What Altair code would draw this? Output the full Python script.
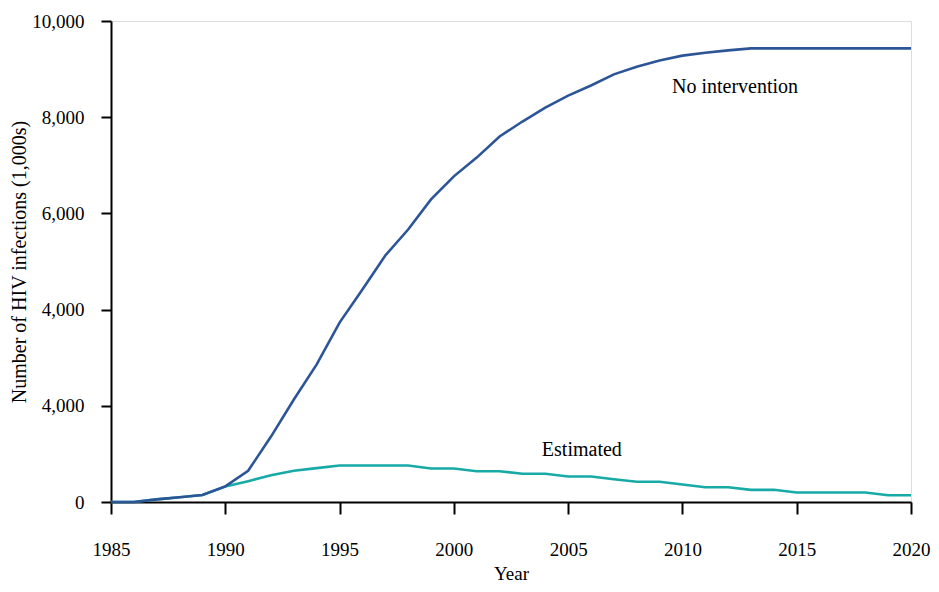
import altair as alt
import pandas as pd

years = list(range(1985, 2021))
no_intervention = [0, 0, 55, 100, 145, 325, 650, 1360, 2130, 2860, 3730, 4420, 5125,
                   5665, 6290, 6770, 7160, 7600, 7910, 8200, 8450, 8660, 8890, 9050,
                   9180, 9280, 9340, 9390, 9430, 9430, 9430, 9430, 9430, 9430, 9430, 9430]
estimated = [0, 0, 55, 100, 145, 320, 432, 555, 650, 705, 759, 759, 759, 759, 696, 696,
             640, 640, 586, 586, 530, 530, 474, 420, 420, 364, 308, 308, 253, 253, 198,
             198, 198, 198, 141, 141]

y_tick_values = [0, 2000, 4000, 6000, 8000, 10000]
y_tick_labels = ["0", "4,000", "4,000", "6,000", "8,000", "10,000"]
x_tick_values = [1985, 1990, 1995, 2000, 2005, 2010, 2015, 2020]

label_names = ["No intervention", "Estimated"]
label_x = [2012.3, 2005.6]
label_y = [8620, 1090]

series_names = ["Estimated", "No intervention"]
series_colors = ["#17aaa7", "#2c5597"]

rows = []
for name, vals in [("Estimated", estimated), ("No intervention", no_intervention)]:
    for yr, v in zip(years, vals):
        rows.append({"Year": yr, "Value": v, "Series": name,
                     "order": series_names.index(name)})
df = pd.DataFrame(rows)
labels_df = pd.DataFrame({"text": label_names, "Year": label_x, "Value": label_y})

expr = " : ".join(
    f"datum.value == {v} ? '{l}'" for v, l in zip(y_tick_values, y_tick_labels)
) + " : ''"

FONT = "Liberation Serif"

x_scale = alt.Scale(domain=[1985, 2020], nice=False, zero=False)
y_scale = alt.Scale(domain=[0, 10000], nice=False)

lines = alt.Chart(df).mark_line(strokeWidth=2.6).encode(
    x=alt.X("Year:Q", scale=x_scale, axis=alt.Axis(
        values=x_tick_values, format="d", title="Year", grid=False,
        domainColor="black", domainWidth=2, tickColor="black", tickWidth=2,
        tickSize=12, labelPadding=26, labelFontSize=19, labelFont=FONT,
        labelColor="black", titleFont=FONT, titleFontSize=19, titleFontWeight="normal",
        titleColor="black", titlePadding=5, labelFlush=False)),
    y=alt.Y("Value:Q", scale=y_scale, axis=alt.Axis(
        values=y_tick_values, labelExpr=expr, title="Number of HIV infections (1,000s)",
        grid=False, domainColor="black", domainWidth=2, tickColor="black", tickWidth=2,
        tickSize=10, labelPadding=17, labelFontSize=19, labelFont=FONT,
        labelColor="black", titleFont=FONT, titleFontSize=20, titleFontWeight="normal",
        titleColor="black", titlePadding=2)),
    color=alt.Color("Series:N", scale=alt.Scale(domain=series_names, range=series_colors),
                    legend=None),
    order=alt.Order("order:Q"),
    detail="Series:N",
)

texts = alt.Chart(labels_df).mark_text(font=FONT, fontSize=20, color="black",
                                       baseline="middle", align="center").encode(
    x=alt.X("Year:Q", scale=x_scale),
    y=alt.Y("Value:Q", scale=y_scale),
    text="text:N",
)

chart = alt.layer(lines, texts).properties(
    width=800, height=481,
    autosize=alt.AutoSizeParams(type="none"),
    padding={"left": 103, "top": 13, "right": 20, "bottom": 84},
).configure_view(stroke=None).configure(background="white")

chart.save("out.html", embed_options={"renderer": "svg", "actions": False})
